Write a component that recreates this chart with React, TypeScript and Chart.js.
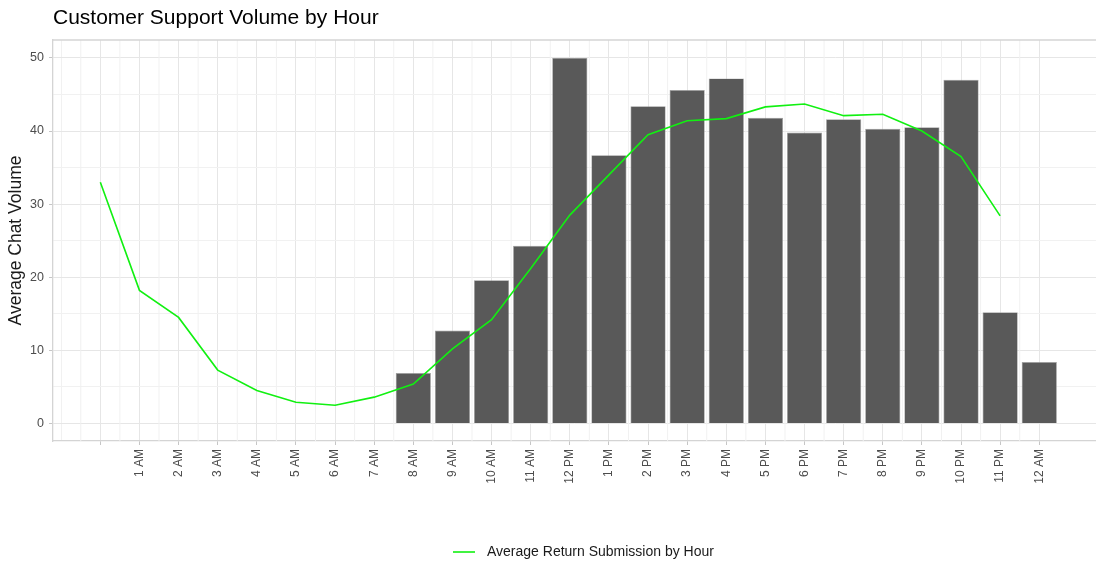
import React, { useEffect, useRef } from "react";
import { Chart, registerables } from "chart.js";

Chart.register(...registerables);

const FONT = "'Liberation Sans', Arial, Helvetica, sans-serif";

const hourLabels = [
  "", "1 AM", "2 AM", "3 AM", "4 AM", "5 AM", "6 AM", "7 AM", "8 AM", "9 AM", "10 AM", "11 AM",
  "12 PM", "1 PM", "2 PM", "3 PM", "4 PM", "5 PM", "6 PM", "7 PM", "8 PM", "9 PM", "10 PM", "11 PM", "12 AM",
];

// Average chat volume (bars), one per hour label
const chatVolume: (number | null)[] = [
  null, null, null, null, null, null, null, null,
  6.9, 12.7, 19.6, 24.3, 50.0, 36.7, 43.4, 45.6, 47.2, 41.8, 39.8, 41.6, 40.3, 40.5, 47.0, 15.2, 8.4,
];

// Average return submission (line), one per hour label
const returnSubmissions: (number | null)[] = [
  33.0, 18.2, 14.5, 7.3, 4.5, 2.9, 2.5, 3.6, 5.4, 10.2, 14.2, 21.2,
  28.5, 34.0, 39.5, 41.4, 41.7, 43.3, 43.7, 42.1, 42.3, 40.0, 36.5, 28.4, null,
];

const yTickValues = [0, 5, 10, 15, 20, 25, 30, 35, 40, 45, 50];
const yMajorStep = 10;

const titleText = "Customer Support Volume by Hour";
const yAxisTitle = "Average Chat Volume";
const lineLabel = "Average Return Submission by Hour";

const LINE_COLOR = "#11f011";
const BAR_COLOR = "#595959";
const MAJOR_GRID = "#e6e6e6";
const MINOR_GRID = "#f1f1f1";
const BORDER = "#d4d4d4";
const TICK_MARK = "#c6c6c6";

export default function App() {
  const ref = useRef<HTMLCanvasElement>(null);

  useEffect(() => {
    if (!ref.current) return;
    const barData = chatVolume
      .map((v, i) => ({ x: i, y: v }))
      .filter((p) => p.y !== null);
    const lineData = returnSubmissions
      .map((v, i) => ({ x: i, y: v }))
      .filter((p) => p.y !== null);

    const xMajor: number[] = [-1];
    for (let i = 0; i < hourLabels.length; i++) xMajor.push(i);
    const xMinor: number[] = [];
    for (let i = -1; i < hourLabels.length - 1; i++) xMinor.push(i + 0.5);

    const decorations = {
      id: "decorations",
      beforeDatasetsDraw(chart: any) {
        const { ctx, chartArea } = chart;
        const xs = chart.scales.x;
        ctx.save();
        ctx.strokeStyle = MINOR_GRID;
        ctx.lineWidth = 1;
        xMinor.forEach((v) => {
          const px = xs.getPixelForValue(v);
          ctx.beginPath();
          ctx.moveTo(px, chartArea.top);
          ctx.lineTo(px, chartArea.bottom);
          ctx.stroke();
        });
        ctx.restore();
      },
      afterDraw(chart: any) {
        const { ctx, chartArea } = chart;
        ctx.save();
        // top border of panel
        ctx.strokeStyle = BORDER;
        ctx.lineWidth = 1.3;
        ctx.beginPath();
        ctx.moveTo(chartArea.left, chartArea.top);
        ctx.lineTo(chartArea.right, chartArea.top);
        ctx.stroke();

        // title
        ctx.fillStyle = "#000000";
        ctx.font = `21px ${FONT}`;
        ctx.textAlign = "left";
        ctx.textBaseline = "middle";
        ctx.fillText(titleText, chartArea.left, 18);

        // y axis title
        ctx.save();
        ctx.translate(16, (chartArea.top + chartArea.bottom) / 2);
        ctx.rotate(-Math.PI / 2);
        ctx.textAlign = "center";
        ctx.textBaseline = "middle";
        ctx.font = `17.5px ${FONT}`;
        ctx.fillStyle = "#1a1a1a";
        ctx.fillText(yAxisTitle, 0, 0);
        ctx.restore();

        // legend
        const ly = 552;
        ctx.strokeStyle = LINE_COLOR;
        ctx.lineWidth = 1.6;
        ctx.beginPath();
        ctx.moveTo(453, ly);
        ctx.lineTo(475, ly);
        ctx.stroke();
        ctx.fillStyle = "#1a1a1a";
        ctx.font = `14px ${FONT}`;
        ctx.textAlign = "left";
        ctx.textBaseline = "middle";
        ctx.fillText(lineLabel, 487, ly);
        ctx.restore();
      },
    };

    const chart = new Chart(ref.current, {
      type: "bar",
      data: {
        datasets: [
          {
            type: "line",
            label: lineLabel,
            data: lineData as any,
            borderColor: LINE_COLOR,
            backgroundColor: LINE_COLOR,
            borderWidth: 1.6,
            pointRadius: 0,
            tension: 0,
            order: 0,
          } as any,
          {
            type: "bar",
            label: yAxisTitle,
            data: barData as any,
            backgroundColor: BAR_COLOR,
            borderColor: "#a0a0a0",
            borderWidth: 0.7,
            barPercentage: 0.9,
            categoryPercentage: 1,
            order: 1,
          } as any,
        ],
      },
      options: {
        responsive: false,
        animation: false,
        layout: { padding: { top: 40, left: 0, right: 0, bottom: 0 } },
        plugins: {
          legend: { display: false },
          title: { display: false },
          tooltip: { enabled: false },
        },
        scales: {
          x: {
            type: "linear",
            min: -1.21,
            max: 25.45,
            offset: false,
            afterBuildTicks: (s: any) => {
              s.ticks = xMajor.map((v) => ({ value: v }));
            },
            afterFit: (s: any) => {
              s.height = 122;
            },
            ticks: {
              autoSkip: false,
              minRotation: 90,
              maxRotation: 90,
              padding: 4,
              color: "#4d4d4d",
              font: { family: FONT, size: 12 },
              callback: (v: any) => (Number.isInteger(v) && v >= 0 ? hourLabels[v] : ""),
            },
            grid: {
              offset: false,
              color: (c: any) => (c.tick && c.tick.value >= 0 ? MAJOR_GRID : MINOR_GRID),
              lineWidth: 1,
              tickLength: 4,
              tickColor: (c: any) => (c.tick && c.tick.value >= 0 ? TICK_MARK : "rgba(0,0,0,0)"),
            },
            border: { display: true, color: BORDER, width: 1.3 },
          },
          y: {
            type: "linear",
            min: -2.4,
            max: 52.45,
            afterBuildTicks: (s: any) => {
              s.ticks = yTickValues.map((v) => ({ value: v }));
            },
            afterFit: (s: any) => {
              s.width = 53;
            },
            ticks: {
              padding: 5,
              color: "#4d4d4d",
              font: { family: FONT, size: 12.5 },
              callback: (v: any) => (v % yMajorStep === 0 ? String(v) : ""),
            },
            grid: {
              color: (c: any) => (c.tick && c.tick.value % yMajorStep === 0 ? MAJOR_GRID : MINOR_GRID),
              lineWidth: 1,
              tickLength: 4,
              tickColor: (c: any) =>
                c.tick && c.tick.value % yMajorStep === 0 ? TICK_MARK : "rgba(0,0,0,0)",
            },
            border: { display: true, color: BORDER, width: 1.3 },
          },
        },
      },
      plugins: [decorations],
    } as any);

    return () => chart.destroy();
  }, []);

  return (
    <div style={{ position: "absolute", left: 0, top: 0, width: 1096, height: 563, background: "#ffffff" }}>
      <canvas ref={ref} width={1096} height={563} style={{ display: "block" }} />
    </div>
  );
}
